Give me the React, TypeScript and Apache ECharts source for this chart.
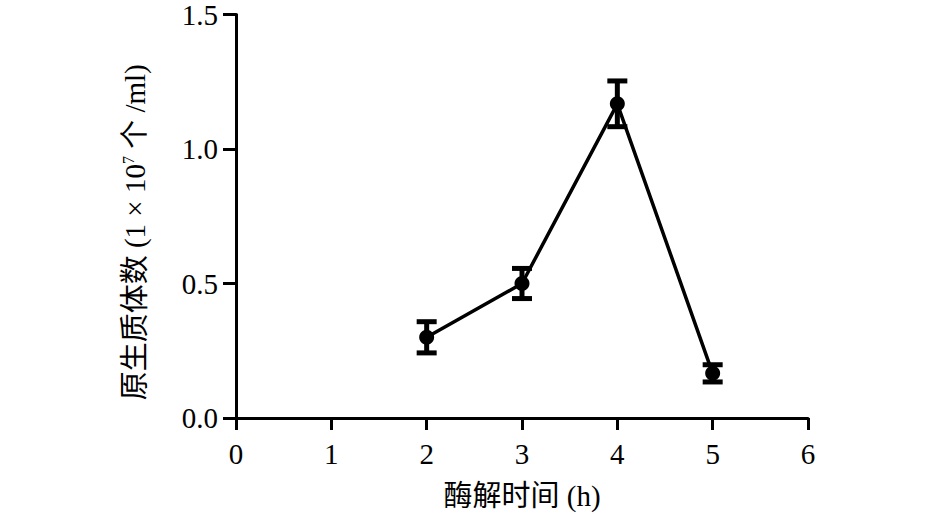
import React, { useEffect, useRef } from "react";
import * as echarts from "echarts";

const times = [2, 3, 4, 5];
const means = [0.3, 0.5, 1.168, 0.166];
const errs = [0.058, 0.056, 0.085, 0.032];
const yTicks = [0, 0.5, 1.0, 1.5];

const serif = '"Liberation Serif", "Times New Roman", "Noto Sans CJK SC", serif';

export default function App() {
  const ref = useRef<HTMLDivElement>(null);
  useEffect(() => {
    if (!ref.current) return;
    const chart = echarts.init(ref.current, null, { renderer: "svg" });
    const lineData = times.map((t, i) => [t, means[i]]);
    const errData = times.map((t, i) => [t, means[i] - errs[i], means[i] + errs[i]]);
    chart.setOption({
      animation: false,
      backgroundColor: "#fff",
      grid: { left: 236, right: 137, top: 14, bottom: 101, containLabel: false },
      xAxis: {
        type: "value",
        min: 0,
        max: 6,
        interval: 1,
        name: "酶解时间 (h)",
        nameLocation: "middle",
        nameGap: 63,
        nameTextStyle: { fontFamily: serif, fontSize: 29, color: "#000" },
        axisLine: { show: true, lineStyle: { color: "#000", width: 3 } },
        axisTick: { show: true, length: 12, lineStyle: { color: "#000", width: 3 } },
        axisLabel: { fontFamily: serif, fontSize: 29, color: "#000", margin: 21 },
        splitLine: { show: false },
      },
      yAxis: {
        type: "value",
        min: yTicks[0],
        max: yTicks[yTicks.length - 1],
        interval: 0.5,
        name: "原生质体数 (1 × 10{sup|7} 个 /ml)",
        nameLocation: "middle",
        nameRotate: 90,
        nameGap: 86,
        nameTextStyle: {
          fontFamily: serif,
          fontSize: 29,
          color: "#000",
          padding: [0, 32, 0, 0],
          rich: {
            sup: { fontFamily: serif, fontSize: 16, color: "#000", verticalAlign: "top", lineHeight: 30 },
          },
        },
        axisLine: { show: true, lineStyle: { color: "#000", width: 3 } },
        axisTick: { show: true, length: 13, lineStyle: { color: "#000", width: 3 } },
        axisLabel: {
          fontFamily: serif,
          fontSize: 29,
          color: "#000",
          margin: 18,
          formatter: (v: number) => v.toFixed(1),
        },
        splitLine: { show: false },
      },
      series: [
        {
          type: "line",
          data: lineData,
          symbol: "circle",
          symbolSize: 15,
          itemStyle: { color: "#000" },
          lineStyle: { color: "#000", width: 3.5 },
          z: 3,
        },
        {
          type: "custom",
          data: errData,
          z: 4,
          renderItem: (params: any, api: any) => {
            const x = api.value(0);
            const lo = api.coord([x, api.value(1)]);
            const hi = api.coord([x, api.value(2)]);
            const hw = 10;
            const style = { stroke: "#000", lineWidth: 5 };
            return {
              type: "group",
              children: [
                { type: "line", shape: { x1: lo[0], y1: lo[1], x2: hi[0], y2: hi[1] }, style },
                { type: "line", shape: { x1: lo[0] - hw, y1: lo[1], x2: lo[0] + hw, y2: lo[1] }, style },
                { type: "line", shape: { x1: hi[0] - hw, y1: hi[1], x2: hi[0] + hw, y2: hi[1] }, style },
              ],
            };
          },
        },
      ],
    });
    return () => chart.dispose();
  }, []);
  return (
    <div
      ref={ref}
      style={{ position: "fixed", left: 0, top: 0, width: 945, height: 519, background: "#fff" }}
    />
  );
}
